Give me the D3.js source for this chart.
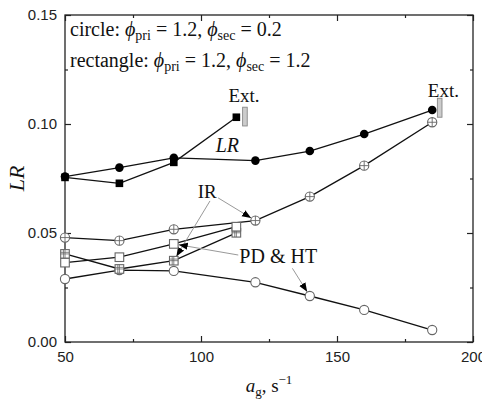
<!DOCTYPE html>
<html><head><meta charset="utf-8">
<script src="https://cdn.jsdelivr.net/npm/d3@7"></script>
<style>
html,body{margin:0;padding:0;background:#fff;}
svg{display:block;}
</style></head>
<body>
<svg id="c" width="482" height="401"></svg>
<script>
// ---- data ----
const xTicks = [50, 100, 150, 200];
const xMinor = [75, 125, 175];
const yTicks = [0.00, 0.05, 0.10, 0.15];
const yMinor = [0.025, 0.075, 0.125];
const circleX = [50, 70, 90, 120, 140, 160, 185];
const rectX = [50, 70, 90, 113];
const circleLR = [0.0759, 0.0800, 0.0845, 0.0832, 0.0876, 0.0954, 0.1064];
const circleIR = [0.0479, 0.0465, 0.0517, 0.0557, 0.0667, 0.0809, 0.1008];
const circlePD = [0.0289, 0.0330, 0.0326, 0.0274, 0.0211, 0.0147, 0.0055];
const rectLR = [0.0755, 0.0728, 0.0824, 0.1031];
const rectIR = [0.0404, 0.0335, 0.0373, 0.0501];
const rectPD = [0.0364, 0.0389, 0.0450, 0.0529];

const W = 482, H = 401;
const m = {l: 65, r: 9, t: 15, b: 59};
const svg = d3.select('#c');
const x = d3.scaleLinear().domain([50, 200]).range([m.l, W - m.r]);
const y = d3.scaleLinear().domain([0, 0.15]).range([H - m.b, m.t]);
const serif = '"Liberation Serif","Times New Roman",serif';
const sans = '"Liberation Sans",Arial,sans-serif';

// defs
const defs = svg.append('defs');
defs.append('marker').attr('id', 'ah').attr('viewBox', '0 0 10 10')
  .attr('refX', 10).attr('refY', 5).attr('markerWidth', 9).attr('markerHeight', 9)
  .attr('markerUnits', 'userSpaceOnUse').attr('orient', 'auto')
  .append('path').attr('d', 'M0,1 L10,5 L0,9 Z').attr('fill', '#000');

// axes (inward ticks)
const gx = svg.append('g').attr('transform', `translate(0,${H - m.b})`)
  .call(d3.axisBottom(x).tickValues(xTicks).tickSizeInner(-6).tickSizeOuter(0).tickPadding(9).tickFormat(d3.format('d')));
const gxm = svg.append('g').attr('transform', `translate(0,${H - m.b})`)
  .call(d3.axisBottom(x).tickValues(xMinor).tickSizeInner(-3).tickSizeOuter(0).tickFormat(''));
const gxt = svg.append('g').attr('transform', `translate(0,${m.t})`)
  .call(d3.axisTop(x).tickValues(xTicks).tickSizeInner(-6).tickSizeOuter(0).tickFormat(''));
const gxtm = svg.append('g').attr('transform', `translate(0,${m.t})`)
  .call(d3.axisTop(x).tickValues(xMinor).tickSizeInner(-3).tickSizeOuter(0).tickFormat(''));
const gy = svg.append('g').attr('transform', `translate(${m.l},0)`)
  .call(d3.axisLeft(y).tickValues(yTicks).tickSizeInner(-6).tickSizeOuter(0).tickPadding(8).tickFormat(d3.format('.2f')));
const gym = svg.append('g').attr('transform', `translate(${m.l},0)`)
  .call(d3.axisLeft(y).tickValues(yMinor).tickSizeInner(-3).tickSizeOuter(0).tickFormat(''));
const gyr = svg.append('g').attr('transform', `translate(${W - m.r},0)`)
  .call(d3.axisRight(y).tickValues(yTicks).tickSizeInner(-6).tickSizeOuter(0).tickFormat(''));
const gyrm = svg.append('g').attr('transform', `translate(${W - m.r},0)`)
  .call(d3.axisRight(y).tickValues(yMinor).tickSizeInner(-3).tickSizeOuter(0).tickFormat(''));
[gx, gxm, gxt, gxtm, gy, gym, gyr, gyrm].forEach(g => {
  g.select('.domain').remove();
  g.selectAll('line').attr('stroke', '#222').attr('stroke-width', 1.2);
  g.selectAll('text').attr('font-family', sans).attr('font-size', 15).attr('fill', '#222');
});
svg.append('rect').attr('x', m.l).attr('y', m.t).attr('width', W - m.l - m.r).attr('height', H - m.t - m.b)
  .attr('fill', 'none').attr('stroke', '#222').attr('stroke-width', 1.3);

// axis titles
svg.append('text').attr('transform', `translate(24,${(m.t + H - m.b) / 2}) rotate(-90)`)
  .attr('text-anchor', 'middle').attr('font-family', serif).attr('font-style', 'italic')
  .attr('font-size', 22).attr('fill', '#111').text('LR');
const xt = svg.append('text').attr('x', (m.l + W - m.r) / 2).attr('y', 392)
  .attr('text-anchor', 'middle').attr('font-family', serif).attr('font-size', 19).attr('fill', '#111');
xt.append('tspan').attr('font-style', 'italic').text('a');
xt.append('tspan').attr('font-size', 13).attr('dy', 4).text('g');
xt.append('tspan').attr('dy', -4).text(', s');
xt.append('tspan').attr('font-size', 13).attr('dy', -8).text('\u22121');

// lines
const line = d3.line().x(d => x(d[0])).y(d => y(d[1]));
const series = [
  {xs: circleX, ys: circleLR, type: 'fcircle'},
  {xs: circleX, ys: circleIR, type: 'pcircle'},
  {xs: circleX, ys: circlePD, type: 'ocircle'},
  {xs: rectX, ys: rectLR, type: 'fsquare'},
  {xs: rectX, ys: rectIR, type: 'gsquare'},
  {xs: rectX, ys: rectPD, type: 'osquare'}
];
series.forEach(s => {
  const pts = s.xs.map((v, i) => [v, s.ys[i]]);
  svg.append('path').datum(pts).attr('d', line).attr('fill', 'none')
    .attr('stroke', '#111').attr('stroke-width', 1.3);
});

// annotation arrows (gray line, black head)
function arrow(x0, y0, x1, y1, gap) {
  const X0 = x(x0), Y0 = y(y0), X1 = x(x1), Y1 = y(y1);
  const dx = X1 - X0, dy = Y1 - Y0, L = Math.hypot(dx, dy);
  const ex = X1 - dx / L * gap, ey = Y1 - dy / L * gap;
  svg.append('line').attr('x1', X0).attr('y1', Y0).attr('x2', ex).attr('y2', ey)
    .attr('stroke', '#999').attr('stroke-width', 1).attr('marker-end', 'url(#ah)');
}
arrow(106.3, 0.0661, circleX[3], circleIR[3], 5);
arrow(103.3, 0.0647, rectX[2], rectIR[2], 5);
arrow(113.7, 0.0399, rectX[2], rectPD[2], 5);
arrow(133.6, 0.0338, circleX[4], circlePD[4], 5);

// markers
const gray = '#666';
series.forEach(s => {
  s.xs.forEach((v, i) => {
    const cx = x(v), cy = y(s.ys[i]);
    const g = svg.append('g').attr('transform', `translate(${cx},${cy})`);
    if (s.type === 'fcircle') {
      g.append('circle').attr('r', 4.3).attr('fill', '#000');
    } else if (s.type === 'ocircle' || s.type === 'pcircle') {
      g.append('circle').attr('r', 4.6).attr('fill', '#fff').attr('stroke', gray).attr('stroke-width', 1.1);
      if (s.type === 'pcircle') {
        g.append('path').attr('d', 'M-4.6,0H4.6M0,-4.6V4.6').attr('stroke', gray).attr('stroke-width', 0.9);
      }
    } else if (s.type === 'fsquare') {
      g.append('rect').attr('x', -3.8).attr('y', -3.8).attr('width', 7.6).attr('height', 7.6).attr('fill', '#000');
    } else {
      g.append('rect').attr('x', -4.3).attr('y', -4.3).attr('width', 8.6).attr('height', 8.6)
        .attr('fill', '#fff').attr('stroke', gray).attr('stroke-width', 1.1);
      if (s.type === 'gsquare') {
        g.append('path').attr('d', 'M-4.3,0H4.3M0,-4.3V4.3M-4.3,-1.6H4.3M-1.6,-4.3V4.3')
          .attr('stroke', gray).attr('stroke-width', 0.8);
      }
    }
  });
});

// extinction bars
const extBars = [[115.3, 117.0, 0.1077, 0.0991], [186.9, 188.6, 0.1118, 0.1031]];
extBars.forEach(b => {
  svg.append('rect').attr('x', x(b[0])).attr('y', y(b[2]))
    .attr('width', x(b[1]) - x(b[0])).attr('height', y(b[3]) - y(b[2]))
    .attr('fill', '#ccc').attr('stroke', '#888').attr('stroke-width', 0.9);
});

// labels
function label(tx, ty, str, italic, size) {
  svg.append('text').attr('x', x(tx)).attr('y', y(ty)).attr('text-anchor', 'middle')
    .attr('font-family', serif).attr('font-size', size || 19).attr('fill', '#111')
    .attr('font-style', italic ? 'italic' : 'normal').text(str);
}
label(115.8, 0.110, 'Ext.');
label(189.1, 0.1124, 'Ext.');
label(109.7, 0.0870, 'LR', true, 20);
label(102.3, 0.0661, 'IR');
label(128.4, 0.0362, 'PD & HT', false, 20);

// header text
function header(yy, name, pri, sec) {
  const t = svg.append('text').attr('x', m.l + 5).attr('y', yy)
    .attr('font-family', serif).attr('font-size', 20).attr('fill', '#111');
  t.append('tspan').text(name + ': ');
  t.append('tspan').attr('font-style', 'italic').text('\u03D5');
  t.append('tspan').attr('font-size', 14).attr('dy', 4).text('pri');
  t.append('tspan').attr('dy', -4).text(' = ' + pri + ', ');
  t.append('tspan').attr('font-style', 'italic').text('\u03D5');
  t.append('tspan').attr('font-size', 14).attr('dy', 4).text('sec');
  t.append('tspan').attr('dy', -4).text(' = ' + sec);
}
header(36, 'circle', '1.2', '0.2');
header(67, 'rectangle', '1.2', '1.2');
</script>
</body></html>
